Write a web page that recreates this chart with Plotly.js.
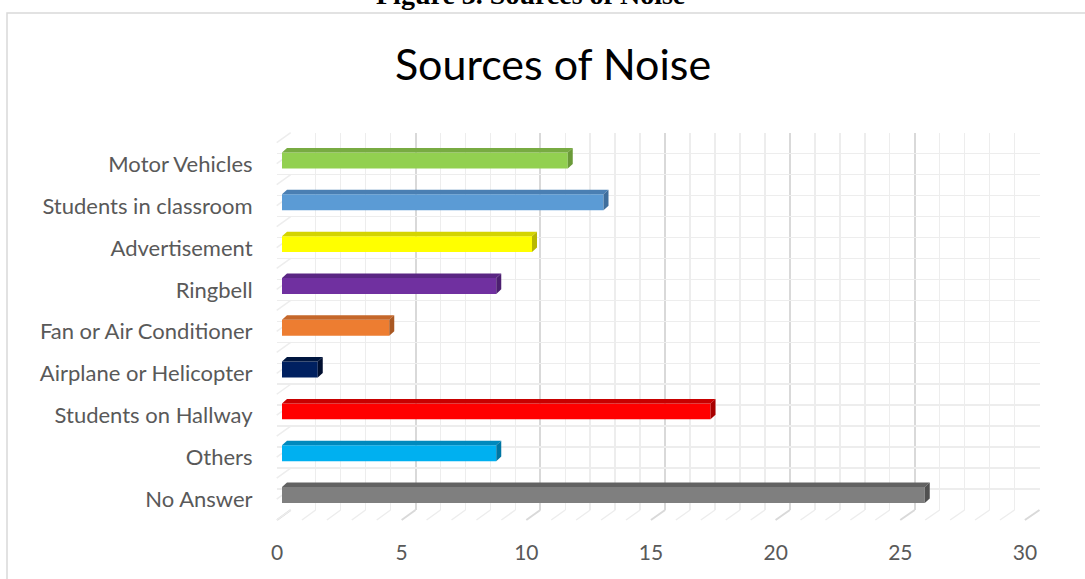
<!DOCTYPE html>
<html>
<head>
<meta charset="utf-8">
<script src="https://cdn.plot.ly/plotly-3.0.1.min.js"></script>
<style>html,body{margin:0;padding:0;background:#fff;}#chart{width:1085px;height:579px;}</style>
</head>
<body>
<div id="chart"></div>
<script>
// ---- data (top to bottom as shown) ----
const categories = ['Motor Vehicles','Students in classroom','Advertisement','Ringbell','Fan or Air Conditioner','Airplane or Helicopter','Students on Hallway','Others','No Answer'];
const values = [11.43, 12.86, 10.0, 8.57, 4.29, 1.43, 17.14, 8.57, 25.71];
const frontColors = ['#92D050','#5B9BD5','#FFFF00','#7030A0','#ED7D31','#002060','#FF0000','#00B0F0','#7F7F7F'];
const topColors   = ['#78AB42','#4A7FB3','#D4D400','#5A2683','#C5672A','#00163F','#C80000','#0089BD','#626262'];
const sideColors  = ['#6A9A38','#3F6E9C','#B8B800','#4C1F70','#A95822','#000F30','#A80000','#0076A3','#505050'];
const xTickVals = [0,5,10,15,20,25,30];

// ---- geometry helpers (pixels -> paper) ----
const W = 1085, H = 579;
const px = v => v / W;
const py = v => 1 - v / H;

const n = categories.length;
const yPos = categories.map((c, i) => n - 1 - i);
const barHalf = 0.19, depthX = 0.2, depthY = 0.108;

const traces = [];
traces.push({type:'scatter', x:[0], y:[0], xaxis:'x', yaxis:'y', mode:'markers', marker:{opacity:0}, hoverinfo:'skip', showlegend:false});
traces.push({type:'scatter', x:[0], y:[0], xaxis:'x2', yaxis:'y', mode:'markers', marker:{opacity:0}, hoverinfo:'skip', showlegend:false});

traces.push({
  type:'bar', orientation:'h', x: values, y: yPos, xaxis:'x3', yaxis:'y3',
  width: barHalf * 2, marker:{color: frontColors, line:{width:0}}, hoverinfo:'x', showlegend:false
});
values.forEach((v, i) => {
  const c = yPos[i];
  traces.push({
    type:'scatter', mode:'lines', xaxis:'x3', yaxis:'y3', fill:'toself',
    x:[0, v, v + depthX, depthX, 0], y:[c + barHalf, c + barHalf, c + barHalf + depthY, c + barHalf + depthY, c + barHalf],
    fillcolor: topColors[i], line:{width:0, color: topColors[i]}, hoverinfo:'skip', showlegend:false
  });
  traces.push({
    type:'scatter', mode:'lines', xaxis:'x3', yaxis:'y3', fill:'toself',
    x:[v, v + depthX, v + depthX, v, v], y:[c - barHalf, c - barHalf + depthY, c + barHalf + depthY, c + barHalf, c - barHalf],
    fillcolor: sideColors[i], line:{width:0, color: sideColors[i]}, hoverinfo:'skip', showlegend:false
  });
});

const shapes = [];
shapes.push({type:'rect', xref:'paper', yref:'paper', x0:px(7), x1:1.05, y0:py(13), y1:-0.05,
  line:{color:'#D9D9D9', width:1.5}, fillcolor:'rgba(0,0,0,0)', layer:'below'});
for (let k = 0; k <= 30; k++) {
  const major = k % 5 === 0;
  shapes.push({type:'line', xref:'paper', yref:'paper', layer:'below',
    x0:px(277 + 24.93 * k), y0:py(520), x1:px(290.7 + 24.96 * k), y1:py(510),
    line:{color: major ? '#D9D9D9' : '#EDEDED', width: major ? 2 : 1.5}});
}
for (let j = 0; j <= 18; j++) {
  const yb = 510 - j * 20.96;
  shapes.push({type:'line', xref:'paper', yref:'paper', layer:'below',
    x0:px(290.7), y0:py(yb), x1:px(276.7), y1:py(yb + 10),
    line:{color:'#EDEDED', width:1.5}});
}

const layout = {
  width: W, height: H,
  margin:{l:0, r:0, t:0, b:0},
  paper_bgcolor:'#ffffff', plot_bgcolor:'rgba(0,0,0,0)',
  showlegend:false,
  title:{text:'Sources of Noise', font:{family:'Lato', size:43, color:'#000000'},
    xref:'container', yref:'container', x:px(553), xanchor:'center', y:py(65), yanchor:'middle'},
  xaxis:{domain:[px(290.7), px(1039.5)], range:[0,30], anchor:'y', dtick:5, tick0:0,
    showgrid:true, gridcolor:'#D9D9D9', gridwidth:2,
    minor:{dtick:1, tick0:0, showgrid:true, gridcolor:'#EDEDED', gridwidth:1.5},
    showticklabels:false, ticks:'', zeroline:false, showline:false, fixedrange:true},
  yaxis:{domain:[py(510), py(132.7)], range:[0,9], anchor:'x', dtick:0.5, tick0:0,
    showgrid:true, gridcolor:'#EDEDED', gridwidth:1.5,
    showticklabels:false, ticks:'', zeroline:false, showline:false, fixedrange:true},
  xaxis2:{domain:[px(277), px(1025)], range:[0,30], anchor:'y', tickvals:xTickVals,
    showgrid:false, zeroline:false, showline:false, ticks:'outside', ticklen:24, tickcolor:'rgba(0,0,0,0)',
    tickfont:{family:'Lato', size:21, color:'#595959'}, fixedrange:true},
  xaxis3:{domain:[px(282), px(1032)], range:[0,30], anchor:'y3', visible:false, fixedrange:true},
  yaxis3:{domain:[py(515.9), py(139.6)], range:[-0.5, 8.5], anchor:'x3',
    tickvals:yPos, ticktext:categories, showgrid:false, zeroline:false, showline:false,
    ticks:'outside', ticklen:24, tickcolor:'rgba(0,0,0,0)', ticklabelshift:4,
    tickfont:{family:'Lato', size:22, color:'#595959'}, fixedrange:true},
  shapes: shapes,
  annotations:[{text:'<b>Figure 3. Sources of Noise</b>', xref:'paper', yref:'paper',
    x:px(530), y:py(12), xanchor:'center', yanchor:'bottom', showarrow:false,
    font:{family:'Liberation Serif', size:28, color:'#000000'}}]
};

Plotly.newPlot('chart', traces, layout, {displayModeBar:false, staticPlot:true});
</script>
</body>
</html>
